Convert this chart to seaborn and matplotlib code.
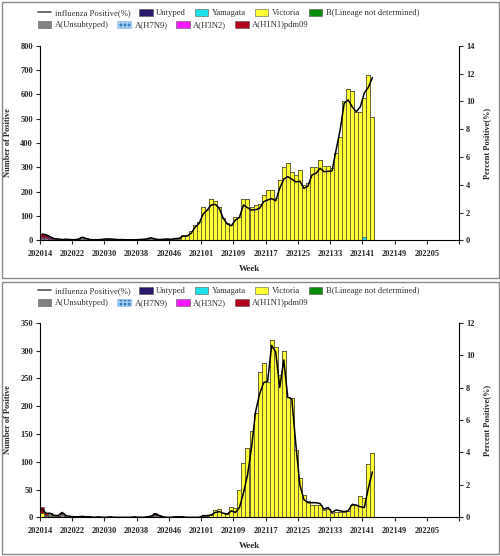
import numpy as np
import pandas as pd
import seaborn as sns
import matplotlib
matplotlib.use("Agg")
import matplotlib.pyplot as plt
from matplotlib.lines import Line2D
from matplotlib.patches import Patch, Rectangle

# 83 surveillance weeks: 202014 .. 202143
weeks = [f"2020{w:02d}" for w in range(14, 54)] + [f"2021{w:02d}" for w in range(1, 44)]
tick_labels = ["202014", "202022", "202030", "202038", "202046", "202101", "202109",
               "202117", "202125", "202133", "202141", "202149", "202205", ""]

# ---- top panel ----
top_victoria = [3, 3, 3, 2, 2, 1, 1, 1, 0, 1,
                1, 2, 1, 0, 0, 1, 0, 0, 1, 1,
                1, 0, 0, 0, 0, 1, 1, 0, 1, 1,
                1, 2, 2, 4, 6, 20, 22, 40, 63, 77,
                138, 125, 170, 161, 138, 90, 70, 63, 95, 97,
                170, 168, 138, 145, 150, 186, 204, 204, 172, 248,
                302, 316, 282, 268, 289, 227, 237, 302, 300, 330,
                305, 305, 293, 358, 426, 574, 619, 614, 529, 529,
                569, 679, 508]
top_unsub = [5, 5, 4, 4, 3, 2, 4, 2, 2, 3,
             12, 6, 2, 2, 2, 3, 3, 3, 3, 2,
             2, 2, 2, 2, 3, 3, 5, 10, 5, 2,
             3, 4, 2, 3, 2, 2] + [0] * 47
top_h3n2 = [5, 4, 2, 0, 0, 0, 0, 0, 0, 0,
            0, 0, 0, 0, 0, 0, 4, 3] + [0] * 65
top_h1n1 = [12, 8, 3, 1] + [0] * 79
top_untyped = [0] * 83
for i, v in [(27, 1), (48, 2), (56, 3), (57, 3), (72, 3), (73, 2), (76, 2)]:
    top_untyped[i] = v
top_yamagata = [0] * 80 + [15, 0, 0]
top_pct = [0.45, 0.4, 0.25, 0.12, 0.1, 0.05, 0.08, 0.05, 0.04, 0.08,
           0.22, 0.12, 0.05, 0.04, 0.04, 0.07, 0.1, 0.1, 0.07, 0.05,
           0.05, 0.04, 0.04, 0.04, 0.05, 0.07, 0.1, 0.18, 0.1, 0.05,
           0.07, 0.1, 0.07, 0.12, 0.14, 0.3, 0.3, 0.5, 0.94, 1.22,
           1.89, 2.18, 2.54, 2.59, 2.3, 1.58, 1.17, 1.05, 1.46, 1.65,
           2.54, 2.35, 2.18, 2.2, 2.3, 2.78, 2.9, 3.0, 2.85, 3.74,
           4.4, 4.58, 4.4, 4.2, 4.25, 3.74, 3.9, 4.7, 4.82, 5.18,
           4.94, 4.96, 5.0, 6.5, 7.94, 9.86, 10.1, 9.6, 9.25, 9.6,
           10.6, 11.0, 11.7]

# ---- bottom panel ----
bot_victoria = [8, 2, 2, 1, 1, 0, 1, 0, 0, 0,
                0, 0, 0, 0, 0, 0, 0, 0, 0, 0,
                0, 0, 0, 0, 0, 0, 0, 0, 0, 0,
                0, 0, 0, 0, 0, 0, 0, 0, 0, 0,
                3, 3, 5, 14, 15, 8, 6, 19, 16, 49,
                97, 124, 155, 187, 262, 277, 244, 319, 306, 256,
                300, 216, 215, 121, 70, 40, 30, 22, 22, 22,
                13, 15, 7, 10, 10, 9, 11, 22, 22, 38,
                34, 95, 115]
bot_unsub = [0, 2, 5, 3, 2, 6, 2, 2, 1, 1,
             2, 1, 1, 0, 1, 0, 0, 1, 0, 0,
             0, 0, 0, 1, 0, 0, 1, 2, 5, 4,
             1, 0, 0, 1, 1, 1] + [0] * 47
bot_h3n2 = [0, 1, 0, 0, 0, 2] + [0] * 77
bot_h1n1 = [10, 2] + [0] * 26 + [2] + [0] * 54
bot_pct = [0.5, 0.25, 0.25, 0.12, 0.1, 0.3, 0.1, 0.06, 0.03, 0.03,
           0.06, 0.03, 0.03, 0.0, 0.03, 0.0, 0.0, 0.03, 0.0, 0.0,
           0.0, 0.0, 0.0, 0.03, 0.0, 0.0, 0.03, 0.06, 0.22, 0.12,
           0.03, 0.0, 0.0, 0.03, 0.03, 0.03, 0.0, 0.0, 0.0, 0.0,
           0.1, 0.1, 0.15, 0.3, 0.35, 0.25, 0.2, 0.4, 0.3, 0.6,
           1.5, 2.6, 4.3, 6.5, 7.6, 8.3, 8.4, 10.6, 10.2, 8.0,
           9.7, 7.4, 7.3, 4.5, 2.0, 1.1, 0.9, 0.9, 0.9, 0.85,
           0.5, 0.6, 0.3, 0.45, 0.4, 0.35, 0.4, 0.8, 0.75, 0.65,
           0.6, 1.8, 2.8]

# stacking order, bottom -> top
stack_names = ["Untyped", "Yamagata", "Victoria", "B(Lineage not determined)",
               "A(Unsubtyped)", "A(H7N9)", "A(H3N2)", "A(H1N1)pdm09"]
colors = {"Untyped": "#2b1a6b", "Yamagata": "#1fe0e8", "Victoria": "#ffff33",
          "B(Lineage not determined)": "#0a8a0a", "A(Unsubtyped)": "#808080",
          "A(H7N9)": "#3a7ec0", "A(H3N2)": "#ff1aff", "A(H1N1)pdm09": "#b0001a"}

zeros = [0] * 83
top_stack = {"Untyped": top_untyped, "Yamagata": top_yamagata, "Victoria": top_victoria,
             "B(Lineage not determined)": zeros, "A(Unsubtyped)": top_unsub,
             "A(H7N9)": zeros, "A(H3N2)": top_h3n2, "A(H1N1)pdm09": top_h1n1}
bot_stack = {"Untyped": zeros, "Yamagata": zeros, "Victoria": bot_victoria,
             "B(Lineage not determined)": zeros, "A(Unsubtyped)": bot_unsub,
             "A(H7N9)": zeros, "A(H3N2)": bot_h3n2, "A(H1N1)pdm09": bot_h1n1}

sns.set_theme(style="white")
plt.rcParams["font.family"] = ["Liberation Serif", "DejaVu Serif"]

FONT = 6


def draw_panel(fig, rect, stack, pct, ymax_left, ystep_left, ymax_right):
    ax = fig.add_axes(rect)
    df = pd.DataFrame(stack)
    df["x"] = np.arange(len(weeks))
    cum = df[stack_names].cumsum(axis=1)
    # draw from the top of the stack downwards so lower layers overlay
    for name in reversed(stack_names):
        if df[name].sum() == 0:
            continue
        sns.barplot(x=df["x"], y=cum[name], native_scale=True, color=colors[name],
                    saturation=1, width=1.0, edgecolor="#3a3a3a", linewidth=0.4,
                    errorbar=None, ax=ax)
    ax.set_xlim(-0.5, 103.5)
    ax.set_ylim(0, ymax_left)
    ax.set_yticks(np.arange(0, ymax_left + 1, ystep_left))
    ax.set_xticks(np.arange(-0.5, 104, 8))
    ax.set_xticklabels(tick_labels, fontsize=FONT, fontweight="bold")
    ax.tick_params(axis="y", labelsize=FONT, direction="out", length=3, width=0.8,
                   left=True, pad=2)
    ax.tick_params(axis="x", direction="out", length=3, width=0.8, bottom=True, pad=4)
    for lab in ax.get_yticklabels():
        lab.set_fontweight("bold")
    ax.set_ylabel("Number of Positive", fontsize=FONT, fontweight="bold", labelpad=6)
    ax.set_xlabel("Week", fontsize=6.5, fontweight="bold", labelpad=5)
    for s in ["top", "right"]:
        ax.spines[s].set_visible(False)
    for s in ["left", "bottom"]:
        ax.spines[s].set_color("black")
        ax.spines[s].set_linewidth(0.8)

    ax2 = ax.twinx()
    sns.lineplot(x=np.arange(len(weeks)), y=pct, color="black", linewidth=1.1, ax=ax2)
    ax2.set_ylim(0, ymax_right)
    ax2.set_yticks(np.arange(0, ymax_right + 1, 2))
    ax2.tick_params(axis="y", labelsize=FONT, direction="out", length=3, width=0.8,
                    right=True, pad=2)
    for lab in ax2.get_yticklabels():
        lab.set_fontweight("bold")
    ax2.set_ylabel("Percent Positive(%)", fontsize=FONT, fontweight="bold", labelpad=6)
    ax2.set_xlim(-0.5, 103.5)
    for s in ["top", "left", "bottom"]:
        ax2.spines[s].set_visible(False)
    ax2.spines["right"].set_color("black")
    ax2.spines["right"].set_linewidth(0.8)
    return ax, ax2


def add_legend(fig, y1, y2):
    row1 = [Line2D([], [], color="#555555", lw=1.2),
            Patch(facecolor=colors["Untyped"], edgecolor="#555555", lw=0.4),
            Patch(facecolor=colors["Yamagata"], edgecolor="#555555", lw=0.4),
            Patch(facecolor=colors["Victoria"], edgecolor="#555555", lw=0.4),
            Patch(facecolor=colors["B(Lineage not determined)"], edgecolor="#555555", lw=0.4)]
    lab1 = ["influenza Positive(%)", "Untyped", "Yamagata", "Victoria",
            "B(Lineage not determined)"]
    row2 = [Patch(facecolor=colors["A(Unsubtyped)"], edgecolor="#555555", lw=0.4),
            Patch(facecolor=colors["A(H7N9)"], edgecolor="#a8cff0", hatch="++++", lw=0.4),
            Patch(facecolor=colors["A(H3N2)"], edgecolor="#555555", lw=0.4),
            Patch(facecolor=colors["A(H1N1)pdm09"], edgecolor="#555555", lw=0.4)]
    lab2 = ["A(Unsubtyped)", "A(H7N9)", "A(H3N2)", "A(H1N1)pdm09"]
    kw = dict(loc="center left", frameon=False, fontsize=6.2, handlelength=1.6,
              handleheight=0.9, handletextpad=0.4, columnspacing=1.0,
              borderpad=0, borderaxespad=0, labelcolor="#333333")
    fig.legend(row1, lab1, bbox_to_anchor=(0.075, y1), ncol=5, **kw)
    fig.legend(row2, lab2, bbox_to_anchor=(0.075, y2), ncol=4, **kw)


fig = plt.figure(figsize=(5.0, 5.56), dpi=100)

# panel frames
fig.patches.append(Rectangle((0.003, 1 - 278 / 556), 0.994, 276 / 556, transform=fig.transFigure,
                             fill=False, edgecolor="#8a8a8a", linewidth=1.0))
fig.patches.append(Rectangle((0.003, 0.003), 0.994, 272 / 556, transform=fig.transFigure,
                             fill=False, edgecolor="#8a8a8a", linewidth=1.0))

draw_panel(fig, [0.08, 0.5678, 0.838, 0.35], top_stack, top_pct, 800, 100, 14)
draw_panel(fig, [0.08, 0.0696, 0.838, 0.35], bot_stack, bot_pct, 350, 50, 12)

add_legend(fig, 1 - 13 / 556, 1 - 25 / 556)
add_legend(fig, 1 - 291 / 556, 1 - 303 / 556)

fig.savefig("out.png", dpi=100)
